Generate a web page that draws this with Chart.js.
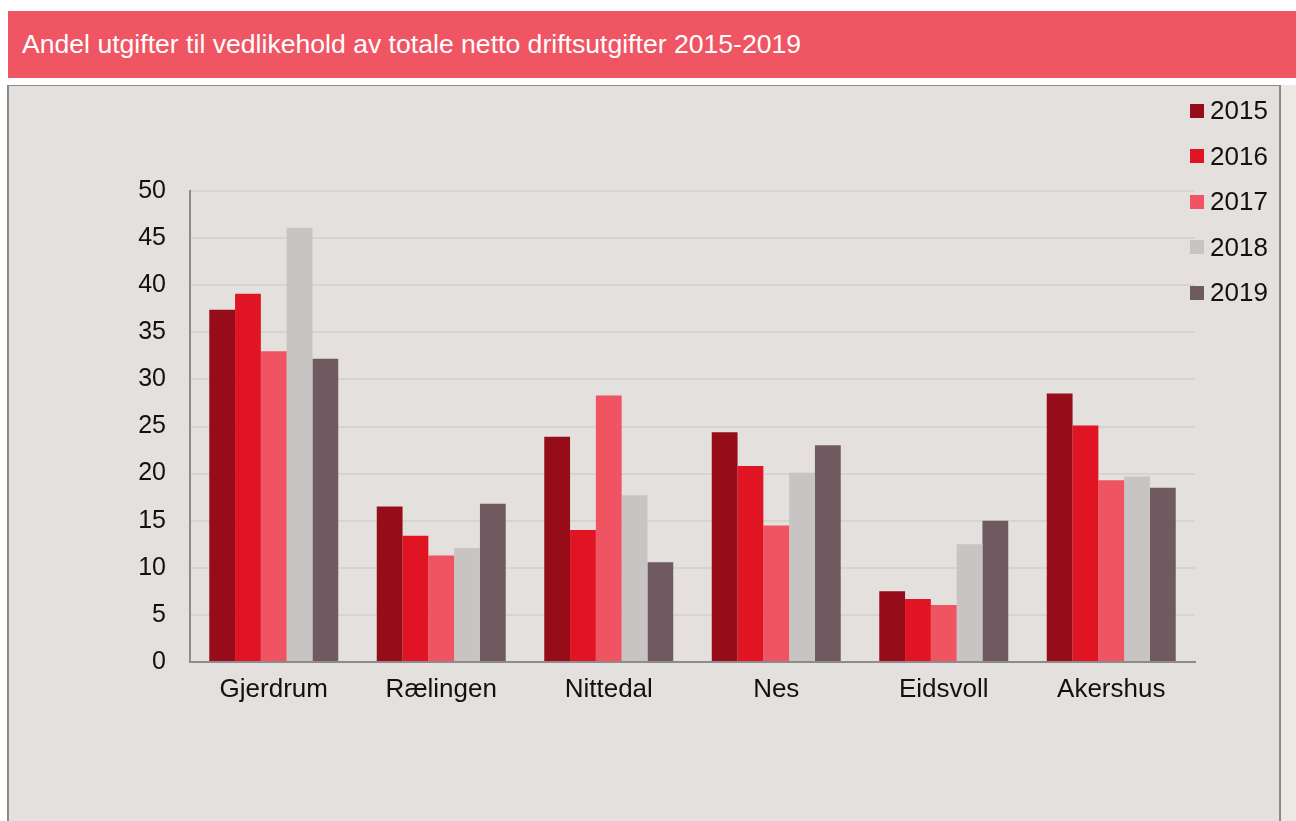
<!DOCTYPE html>
<html>
<head>
<meta charset="utf-8">
<script src="https://cdn.jsdelivr.net/npm/chart.js@4"></script>
<style>
  body { margin: 0; background: #fff; font-family: "Liberation Sans", Arial, sans-serif; }
  #title {
    position: absolute; left: 8px; top: 11px; width: 1288px; height: 67px;
    background: #f05563; color: #fff; font-size: 26.6px; line-height: 67px;
    padding-left: 14px; box-sizing: border-box;
  }
  #strip { position: absolute; left: 1281px; top: 85px; width: 15px; height: 736px; background: #ece9e4; }
  #panel {
    position: absolute; left: 7px; top: 85px; width: 1274px; height: 740px;
    box-sizing: border-box; border: 2px solid #8a8a8a; border-top-width: 1px;
    background: #e4e0dd;
  }
  #wrap { position: absolute; left: 0; top: 0; width: 1270px; height: 735px; }
  #legend { position: absolute; left: 1181px; top: 0; }
  .item { position: absolute; left: 0; display: flex; align-items: center; font-size: 26px; color: #111; white-space: nowrap; }
  .box { width: 14px; height: 14px; margin-right: 6px; }
</style>
</head>
<body>
<div id="title">Andel utgifter til vedlikehold av totale netto driftsutgifter 2015-2019</div>
<div id="strip"></div>
<div id="panel">
  <div id="wrap"><canvas id="chart"></canvas></div>
  <div id="legend"></div>
</div>
<script>
// data
const municipalities = ["Gjerdrum", "Rælingen", "Nittedal", "Nes", "Eidsvoll", "Akershus"];
const years = ["2015", "2016", "2017", "2018", "2019"];
const y2015 = [37.4, 16.5, 23.9, 24.4, 7.5, 28.5];
const y2016 = [39.1, 13.4, 14.0, 20.8, 6.7, 25.1];
const y2017 = [33.0, 11.3, 28.3, 14.5, 6.05, 19.3];
const y2018 = [46.1, 12.1, 17.7, 20.1, 12.5, 19.7];
const y2019 = [32.2, 16.8, 10.6, 23.0, 15.0, 18.5];
const yTicks = [0, 5, 10, 15, 20, 25, 30, 35, 40, 45, 50];

const colors = ["#960c18", "#e11424", "#f05462", "#c8c4c4", "#6e5a60"];
const series = [y2015, y2016, y2017, y2018, y2019];

// legend
const legend = document.getElementById("legend");
years.forEach((yr, i) => {
  const row = document.createElement("div");
  row.className = "item";
  row.style.top = (9 + i * 45.5) + "px";
  row.innerHTML = `<span class="box" style="background:${colors[i]}"></span>${yr}`;
  legend.appendChild(row);
});

new Chart(document.getElementById("chart"), {
  type: "bar",
  data: {
    labels: municipalities,
    datasets: years.map((yr, i) => ({
      label: yr,
      data: series[i],
      backgroundColor: colors[i],
      borderWidth: 0,
      categoryPercentage: 0.77,
      barPercentage: 1
    }))
  },
  options: {
    responsive: true,
    maintainAspectRatio: false,
    animation: false,
    layout: { padding: { left: 81, right: 84, top: 105, bottom: 99 } },
    plugins: { legend: { display: false }, tooltip: { enabled: false } },
    scales: {
      x: {
        grid: { display: false, drawTicks: false },
        border: { color: "#8c8c8c", width: 2 },
        ticks: { color: "#111", font: { family: "Liberation Sans", size: 26 }, padding: 12 },
        afterFit: (s) => { s.height = 60; }
      },
      y: {
        min: 0,
        max: 50,
        afterBuildTicks: (s) => { s.ticks = yTicks.map(v => ({ value: v })); },
        grid: { color: "#d7d3d0", lineWidth: 2, drawTicks: false },
        border: { color: "#8c8c8c", width: 2 },
        ticks: { color: "#111", font: { family: "Liberation Sans", size: 25 }, padding: 24 },
        afterFit: (s) => { s.width = 100; }
      }
    }
  }
});
</script>
</body>
</html>
